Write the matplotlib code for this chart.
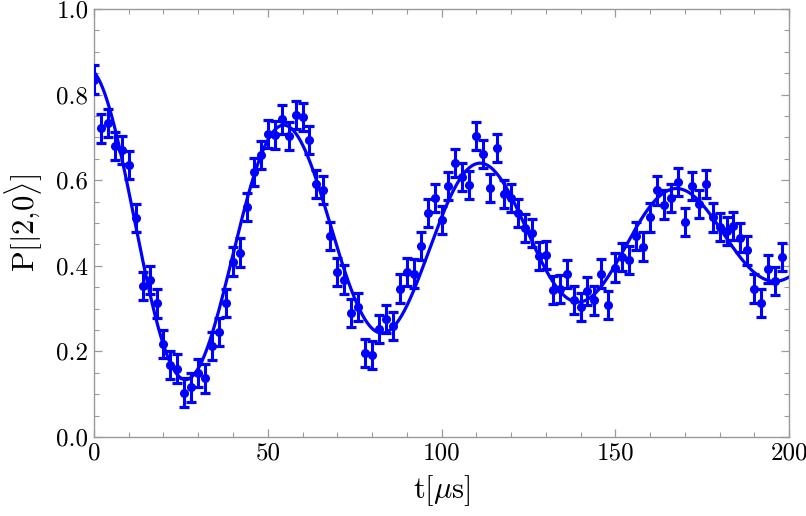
import numpy as np
import matplotlib
matplotlib.use("Agg")
import matplotlib.pyplot as plt
from matplotlib.ticker import MultipleLocator

# measured populations, one point every 2 us
t = np.arange(0, 200, 2)
p20 = [0.835, 0.721, 0.734, 0.680, 0.670, 0.635, 0.512, 0.353, 0.367, 0.312,
       0.217, 0.168, 0.160, 0.104, 0.116, 0.149, 0.137, 0.213, 0.246, 0.314,
       0.410, 0.431, 0.538, 0.620, 0.659, 0.708, 0.706, 0.742, 0.703, 0.752,
       0.748, 0.694, 0.591, 0.577, 0.470, 0.386, 0.368, 0.290, 0.304, 0.197,
       0.192, 0.252, 0.275, 0.259, 0.347, 0.386, 0.382, 0.446, 0.524, 0.558,
       0.507, 0.586, 0.641, 0.607, 0.589, 0.703, 0.661, 0.582, 0.675, 0.568,
       0.558, 0.524, 0.488, 0.477, 0.423, 0.425, 0.343, 0.345, 0.381, 0.320,
       0.303, 0.341, 0.319, 0.382, 0.308, 0.396, 0.420, 0.413, 0.470, 0.445,
       0.513, 0.576, 0.543, 0.558, 0.595, 0.503, 0.587, 0.544, 0.591, 0.513,
       0.490, 0.481, 0.493, 0.466, 0.436, 0.347, 0.314, 0.392, 0.364, 0.420]
p_err = 0.033

x_ticks = [0, 50, 100, 150, 200]
y_ticks = [0.0, 0.2, 0.4, 0.6, 0.8, 1.0]

p20 = np.array(p20)


# damped cosine fit: linear least squares over a grid of periods / decay times
def design(tt, w, tau):
    env = np.exp(-tt / tau)
    return np.column_stack([np.ones_like(tt), env * np.cos(w * tt), env * np.sin(w * tt)])

best = None
for period in np.linspace(50, 62, 121):
    for tau in np.linspace(60, 400, 69):
        w = 2 * np.pi / period
        A = design(t.astype(float), w, tau)
        coef, res, _, _ = np.linalg.lstsq(A, p20, rcond=None)
        r = np.sum((A @ coef - p20) ** 2)
        if best is None or r < best[0]:
            best = (r, w, tau, coef)

_, w, tau, coef = best
t_fit = np.linspace(0, 200, 800)
p_fit = design(t_fit, w, tau) @ coef

plt.rcParams["font.family"] = "cmr10"
plt.rcParams["mathtext.fontset"] = "cm"
plt.rcParams["axes.formatter.use_mathtext"] = True

fig = plt.figure(figsize=(8.06, 5.16), dpi=100)
ax = fig.add_axes([0.1166, 0.153, 0.8624, 0.8296])

ax.plot(t_fit, p_fit, color="blue", lw=2.3, zorder=2)
ax.errorbar(t, p20, yerr=p_err, fmt="o", color="blue", ms=5.5,
            elinewidth=2.2, capsize=3.8, capthick=2.3, zorder=3)

ax.set_xlim(0, 200)
ax.set_ylim(0, 1.0)
ax.set_xticks(x_ticks)
ax.set_yticks(y_ticks)
ax.set_xticklabels([str(v) for v in x_ticks])
ax.set_yticklabels([f"{v:.1f}" for v in y_ticks])
ax.xaxis.set_minor_locator(MultipleLocator(10))
ax.yaxis.set_minor_locator(MultipleLocator(0.05))

frame = "#9a9a9a"
for s in ax.spines.values():
    s.set_color(frame)
    s.set_linewidth(1.0)
ax.tick_params(which="both", direction="in", top=True, right=True,
               color=frame, labelsize=18, pad=4)
ax.tick_params(which="major", length=6, width=0.9)
ax.tick_params(which="minor", length=3.5, width=0.8)

ax.set_xlabel(r"$\mathrm{t}[\mu\mathrm{s}]$", fontsize=22, labelpad=6)
ax.set_ylabel(r"$\mathrm{P}[|2{,}0\rangle]$", fontsize=22, labelpad=8)

fig.savefig("out.png", dpi=100)
